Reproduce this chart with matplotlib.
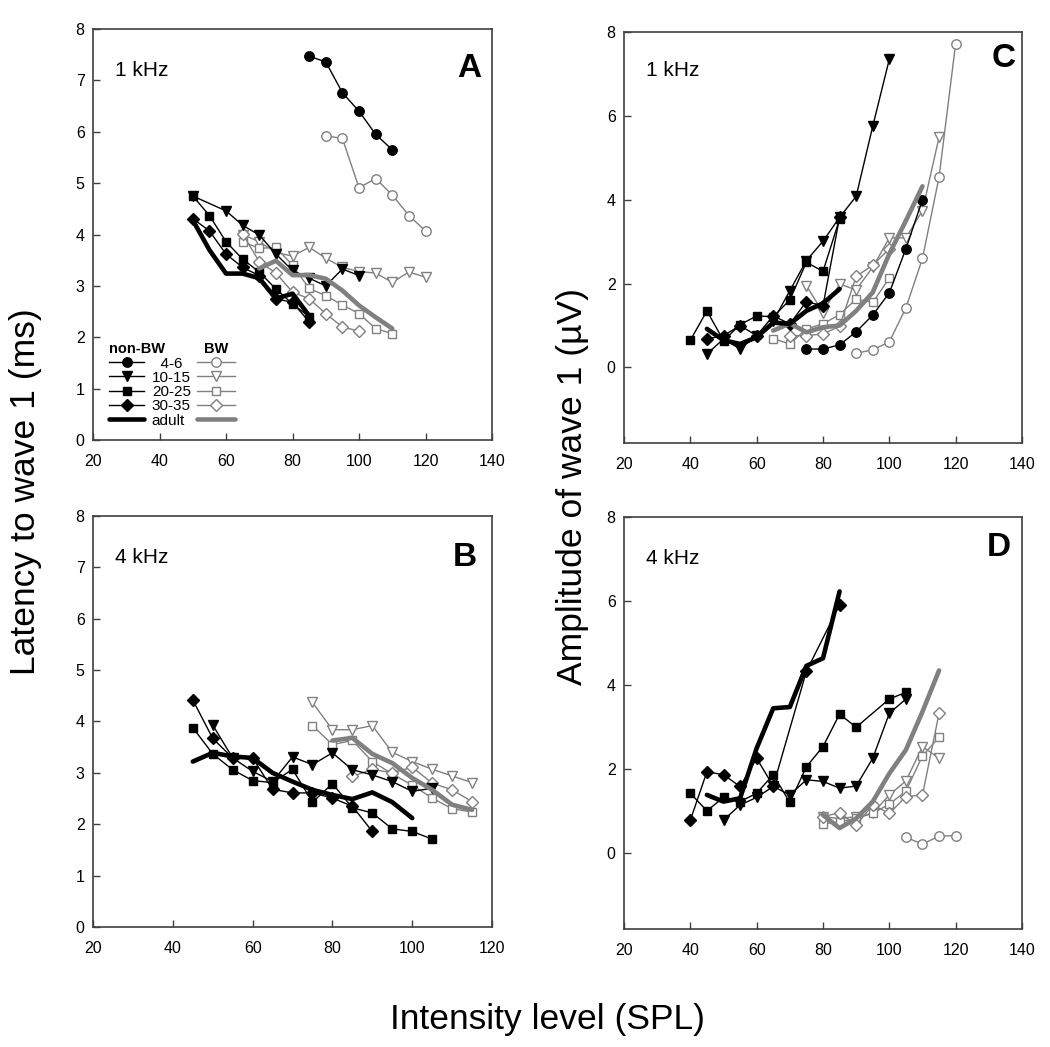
import matplotlib
matplotlib.use("Agg")
import matplotlib.pyplot as plt
from matplotlib.lines import Line2D

plt.rcParams['font.family'] = ['Liberation Sans', 'DejaVu Sans']

# ---- panel A: latency, 1 kHz ----
A_46_x = [85, 90, 95, 100, 105, 110]
A_46_y = [7.47, 7.36, 6.76, 6.40, 5.95, 5.65]
A_1015_x = [50, 60, 65, 70, 75, 80, 85, 90, 95, 100]
A_1015_y = [4.75, 4.46, 4.18, 3.99, 3.62, 3.30, 3.15, 3.00, 3.33, 3.20]
A_2025_x = [50, 55, 60, 65, 70, 75, 80, 85]
A_2025_y = [4.75, 4.37, 3.86, 3.52, 3.27, 2.94, 2.65, 2.40]
A_3035_x = [50, 55, 60, 65, 70, 75, 80, 85]
A_3035_y = [4.31, 4.07, 3.62, 3.36, 3.20, 2.75, 2.68, 2.30]
A_ad_x = [50, 55, 60, 65, 70, 75, 80, 85]
A_ad_y = [4.28, 3.70, 3.24, 3.24, 3.15, 2.75, 2.85, 2.42]
A_bw46_x = [90, 95, 100, 105, 110, 115, 120]
A_bw46_y = [5.92, 5.87, 4.91, 5.09, 4.77, 4.37, 4.07]
A_bw1015_x = [65, 70, 75, 80, 85, 90, 95, 100, 105, 110, 115, 120]
A_bw1015_y = [4.00, 3.86, 3.65, 3.58, 3.75, 3.54, 3.36, 3.28, 3.25, 3.07, 3.27, 3.17]
A_bw2025_x = [65, 70, 75, 80, 85, 90, 95, 100, 105, 110]
A_bw2025_y = [3.86, 3.73, 3.75, 3.40, 2.95, 2.81, 2.63, 2.46, 2.17, 2.07]
A_bw3035_x = [65, 70, 75, 80, 85, 90, 95, 100]
A_bw3035_y = [4.01, 3.47, 3.25, 2.88, 2.75, 2.46, 2.20, 2.12]
A_bwad_x = [70, 75, 80, 85, 90, 95, 100, 105, 110]
A_bwad_y = [3.34, 3.49, 3.21, 3.21, 3.14, 2.91, 2.62, 2.39, 2.17]

# ---- panel B: latency, 4 kHz ----
B_1015_x = [50, 55, 60, 65, 70, 75, 80, 85, 90, 95, 100, 105]
B_1015_y = [3.93, 3.29, 3.03, 2.83, 3.31, 3.16, 3.39, 3.06, 2.96, 2.83, 2.64, 2.70]
B_2025_x = [45, 50, 55, 60, 65, 70, 75, 80, 85, 90, 95, 100, 105]
B_2025_y = [3.88, 3.37, 3.06, 2.85, 2.81, 3.07, 2.43, 2.79, 2.32, 2.22, 1.91, 1.86, 1.71]
B_3035_x = [45, 50, 55, 60, 65, 70, 75, 80, 85, 90]
B_3035_y = [4.42, 3.67, 3.29, 3.29, 2.68, 2.61, 2.61, 2.51, 2.35, 1.86]
B_ad_x = [45, 50, 55, 60, 65, 70, 75, 80, 85, 90, 95, 100]
B_ad_y = [3.22, 3.39, 3.32, 3.29, 3.00, 2.83, 2.67, 2.57, 2.49, 2.62, 2.43, 2.12]
B_bw1015_x = [75, 80, 85, 90, 95, 100, 105, 110, 115]
B_bw1015_y = [4.37, 3.84, 3.84, 3.92, 3.40, 3.22, 3.07, 2.94, 2.81]
B_bw2025_x = [75, 80, 85, 90, 95, 100, 105, 110, 115]
B_bw2025_y = [3.92, 3.55, 3.63, 3.22, 2.98, 2.76, 2.51, 2.30, 2.24]
B_bw3035_x = [85, 90, 95, 100, 105, 110, 115]
B_bw3035_y = [2.93, 3.07, 3.00, 3.11, 2.80, 2.67, 2.44]
B_bwad_x = [80, 85, 90, 95, 100, 105, 110, 115]
B_bwad_y = [3.63, 3.68, 3.37, 3.19, 2.90, 2.67, 2.38, 2.28]

# ---- panel C: amplitude, 1 kHz ----
C_46_x = [75, 80, 85, 90, 95, 100, 105, 110]
C_46_y = [0.44, 0.44, 0.54, 0.85, 1.25, 1.78, 2.83, 4.00]
C_1015_x = [45, 50, 55, 60, 65, 70, 75, 80, 85, 90, 95, 100]
C_1015_y = [0.32, 0.68, 0.44, 0.76, 1.11, 1.83, 2.55, 3.01, 3.58, 4.08, 5.75, 7.35]
C_2025_x = [40, 45, 50, 55, 60, 65, 70, 75, 80, 85]
C_2025_y = [0.65, 1.35, 0.64, 1.02, 1.23, 1.21, 1.61, 2.51, 2.29, 3.54]
C_3035_x = [45, 50, 55, 60, 65, 70, 75, 80, 85]
C_3035_y = [0.68, 0.76, 1.00, 0.76, 1.23, 1.04, 1.57, 1.47, 3.58]
C_ad_x = [45, 50, 55, 60, 65, 70, 75, 80, 85]
C_ad_y = [0.92, 0.65, 0.56, 0.72, 1.07, 1.04, 1.35, 1.53, 1.87]
C_bw46_x = [90, 95, 100, 105, 110, 115, 120]
C_bw46_y = [0.34, 0.42, 0.61, 1.42, 2.60, 4.54, 7.72]
C_bw1015_x = [75, 80, 85, 90, 95, 100, 105, 110, 115]
C_bw1015_y = [1.95, 1.31, 1.99, 1.85, 2.39, 3.09, 3.09, 3.74, 5.49]
C_bw2025_x = [65, 70, 75, 80, 85, 90, 95, 100]
C_bw2025_y = [0.69, 0.56, 0.92, 1.04, 1.26, 1.63, 1.55, 2.13]
C_bw3035_x = [70, 75, 80, 85, 90, 95, 100]
C_bw3035_y = [0.76, 0.76, 0.80, 0.98, 2.17, 2.44, 2.83]
C_bwad_x = [65, 70, 75, 80, 85, 90, 95, 100, 105, 110]
C_bwad_y = [0.88, 1.05, 0.84, 0.96, 1.00, 1.35, 1.79, 2.71, 3.50, 4.32]

# ---- panel D: amplitude, 4 kHz ----
D_1015_x = [50, 55, 60, 65, 70, 75, 80, 85, 90, 95, 100, 105]
D_1015_y = [0.79, 1.15, 1.33, 1.59, 1.39, 1.75, 1.71, 1.55, 1.60, 2.26, 3.33, 3.67]
D_2025_x = [40, 45, 50, 55, 60, 65, 70, 75, 80, 85, 90, 100, 105]
D_2025_y = [1.43, 1.01, 1.33, 1.23, 1.43, 1.87, 1.21, 2.06, 2.54, 3.31, 3.00, 3.67, 3.83]
D_3035_x = [40, 45, 50, 55, 60, 65, 75, 85]
D_3035_y = [0.79, 1.94, 1.87, 1.59, 2.26, 1.60, 4.33, 5.91]
D_ad_x = [45, 50, 55, 60, 65, 70, 75, 80, 85]
D_ad_y = [1.39, 1.23, 1.31, 2.50, 3.45, 3.48, 4.46, 4.64, 6.23]
D_bw46_x = [105, 110, 115, 120]
D_bw46_y = [0.38, 0.22, 0.41, 0.42]
D_bw1015_x = [80, 85, 90, 95, 100, 105, 110, 115]
D_bw1015_y = [0.87, 0.83, 0.87, 0.95, 1.39, 1.72, 2.54, 2.26]
D_bw2025_x = [80, 85, 90, 95, 100, 105, 110, 115]
D_bw2025_y = [0.70, 0.75, 0.83, 0.95, 1.17, 1.48, 2.32, 2.76]
D_bw3035_x = [80, 85, 90, 95, 100, 105, 110, 115]
D_bw3035_y = [0.87, 0.97, 0.67, 1.15, 0.95, 1.35, 1.39, 3.33]
D_bwad_x = [80, 85, 90, 95, 100, 105, 110, 115]
D_bwad_y = [0.91, 0.60, 0.83, 1.23, 1.90, 2.46, 3.37, 4.35]

ages = ['4-6', '10-15', '20-25', '30-35']
markers = {'4-6': 'o', '10-15': 'v', '20-25': 's', '30-35': 'D'}
msizes = {'4-6': 6.8, '10-15': 7.0, '20-25': 6.3, '30-35': 5.8}
GRAY = '#808080'
SPINE = '#404040'


def nbw(ax, x, y, age):
    ax.plot(x, y, color='black', lw=1.0, marker=markers[age],
            ms=msizes[age], mfc='black', mec='black', zorder=4)


def bw(ax, x, y, age):
    ax.plot(x, y, color=GRAY, lw=1.0, marker=markers[age],
            ms=msizes[age], mfc='white', mec=GRAY, mew=1.0, zorder=3)


def adult(ax, x, y, color):
    ax.plot(x, y, color=color, lw=3.3, solid_capstyle='round',
            solid_joinstyle='round', zorder=5 if color == 'black' else 4.5)


def style(ax, xmax, ylim, yticks):
    ax.set_xlim(20, xmax)
    ax.set_xticks(range(20, xmax + 1, 20))
    ax.set_ylim(*ylim)
    ax.set_yticks(yticks)
    for s in ax.spines.values():
        s.set_color(SPINE)
        s.set_linewidth(1.2)
    ax.tick_params(direction='in', length=5, width=1.0, color=SPINE,
                   labelsize=11.5, top=False, right=False)
    ax.tick_params(axis='x', pad=10)
    ax.tick_params(axis='y', pad=6)


fig = plt.figure(figsize=(10.5, 10.47), dpi=100)
axA = fig.add_axes([0.0886, 0.5797, 0.380, 0.3926])
axB = fig.add_axes([0.0886, 0.1146, 0.380, 0.3926])
axC = fig.add_axes([0.5943, 0.5769, 0.379, 0.3926])
axD = fig.add_axes([0.5943, 0.1127, 0.379, 0.3935])

# A
nbw(axA, A_46_x, A_46_y, '4-6')
nbw(axA, A_1015_x, A_1015_y, '10-15')
nbw(axA, A_2025_x, A_2025_y, '20-25')
nbw(axA, A_3035_x, A_3035_y, '30-35')
adult(axA, A_ad_x, A_ad_y, 'black')
bw(axA, A_bw46_x, A_bw46_y, '4-6')
bw(axA, A_bw1015_x, A_bw1015_y, '10-15')
bw(axA, A_bw2025_x, A_bw2025_y, '20-25')
bw(axA, A_bw3035_x, A_bw3035_y, '30-35')
adult(axA, A_bwad_x, A_bwad_y, GRAY)

# B
nbw(axB, B_1015_x, B_1015_y, '10-15')
nbw(axB, B_2025_x, B_2025_y, '20-25')
nbw(axB, B_3035_x, B_3035_y, '30-35')
adult(axB, B_ad_x, B_ad_y, 'black')
bw(axB, B_bw1015_x, B_bw1015_y, '10-15')
bw(axB, B_bw2025_x, B_bw2025_y, '20-25')
bw(axB, B_bw3035_x, B_bw3035_y, '30-35')
adult(axB, B_bwad_x, B_bwad_y, GRAY)

# C
nbw(axC, C_46_x, C_46_y, '4-6')
nbw(axC, C_1015_x, C_1015_y, '10-15')
nbw(axC, C_2025_x, C_2025_y, '20-25')
nbw(axC, C_3035_x, C_3035_y, '30-35')
adult(axC, C_ad_x, C_ad_y, 'black')
bw(axC, C_bw46_x, C_bw46_y, '4-6')
bw(axC, C_bw1015_x, C_bw1015_y, '10-15')
bw(axC, C_bw2025_x, C_bw2025_y, '20-25')
bw(axC, C_bw3035_x, C_bw3035_y, '30-35')
adult(axC, C_bwad_x, C_bwad_y, GRAY)

# D
nbw(axD, D_1015_x, D_1015_y, '10-15')
nbw(axD, D_2025_x, D_2025_y, '20-25')
nbw(axD, D_3035_x, D_3035_y, '30-35')
adult(axD, D_ad_x, D_ad_y, 'black')
bw(axD, D_bw46_x, D_bw46_y, '4-6')
bw(axD, D_bw1015_x, D_bw1015_y, '10-15')
bw(axD, D_bw2025_x, D_bw2025_y, '20-25')
bw(axD, D_bw3035_x, D_bw3035_y, '30-35')
adult(axD, D_bwad_x, D_bwad_y, GRAY)

style(axA, 140, (0, 8), range(0, 9))
style(axB, 120, (0, 8), range(0, 9))
style(axC, 140, (-1.8, 8), range(0, 9, 2))
style(axD, 140, (-1.8, 8), range(0, 9, 2))

# panel labels
for ax, freq, letter, fy, lx, ly in [(axA, '1 kHz', 'A', 0.90, 0.943, 0.905),
                                     (axB, '4 kHz', 'B', 0.90, 0.933, 0.90),
                                     (axC, '1 kHz', 'C', 0.907, 0.953, 0.935),
                                     (axD, '4 kHz', 'D', 0.90, 0.943, 0.927)]:
    ax.text(0.055, fy, freq, transform=ax.transAxes, fontsize=15,
            ha='left', va='center')
    ax.text(lx, ly, letter, transform=ax.transAxes, fontsize=24,
            fontweight='bold', ha='center', va='center')

# legend in A
h_nbw = [Line2D([], [], color='black', lw=1.0, marker=markers[a],
                ms=msizes[a], mfc='black', mec='black') for a in ages]
h_nbw.append(Line2D([], [], color='black', lw=3.3, solid_capstyle='round'))
lab_nbw = ['  4-6', '10-15', '20-25', '30-35', 'adult']
leg1 = axA.legend(h_nbw, lab_nbw, loc='lower left',
                  bbox_to_anchor=(0.04, 0.03), frameon=False, fontsize=11,
                  title='non-BW', title_fontproperties={'weight': 'bold', 'size': 10.5},
                  alignment='left', handlelength=2.3, handletextpad=0.5,
                  labelspacing=0.02, borderpad=0, borderaxespad=0)
axA.add_artist(leg1)
h_bw = [Line2D([], [], color=GRAY, lw=1.0, marker=markers[a], ms=msizes[a],
               mfc='white', mec=GRAY) for a in ages]
h_bw.append(Line2D([], [], color=GRAY, lw=3.3, solid_capstyle='round'))
axA.legend(h_bw, [''] * 5, loc='lower left', bbox_to_anchor=(0.26, 0.03),
           frameon=False, fontsize=11, title='BW',
           title_fontproperties={'weight': 'bold', 'size': 10.5},
           handlelength=2.5, handletextpad=0.0, labelspacing=0.02,
           borderpad=0, borderaxespad=0)

fig.text(0.024, 0.530, 'Latency to wave 1 (ms)', rotation=90,
         fontsize=25.5, ha='center', va='center')
fig.text(0.545, 0.535, 'Amplitude of wave 1 (µV)', rotation=90,
         fontsize=25.5, ha='center', va='center')
fig.text(0.521, 0.026, 'Intensity level (SPL)', fontsize=25.5,
         ha='center', va='center')

fig.savefig('out.png', dpi=100)
